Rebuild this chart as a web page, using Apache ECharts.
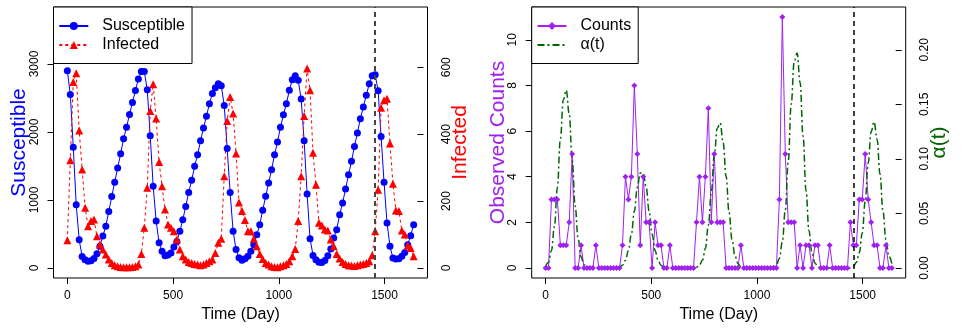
<!DOCTYPE html>
<html><head><meta charset="utf-8">
<script src="https://cdn.jsdelivr.net/npm/echarts@6/dist/echarts.min.js"></script>
<style>html,body{margin:0;padding:0;background:#fff}#c{width:962px;height:330px}</style>
</head><body><div id="c"></div>
<script>
// ---------------- data ----------------
const days = [0,14,28,42,56,70,84,98,112,126,140,154,168,182,196,210,224,238,252,266,280,294,308,322,336,350,364,378,392,406,420,434,448,462,476,490,504,518,532,546,560,574,588,602,616,630,644,658,672,686,700,714,728,742,756,770,784,798,812,826,840,854,868,882,896,910,924,938,952,966,980,994,1008,1022,1036,1050,1064,1078,1092,1106,1120,1134,1148,1162,1176,1190,1204,1218,1232,1246,1260,1274,1288,1302,1316,1330,1344,1358,1372,1386,1400,1414,1428,1442,1456,1470,1484,1498,1512,1526,1540,1554,1568,1582,1596,1610,1624,1638];
const susceptible = [2900,2550,1775,930,415,170,120,100,105,140,210,320,470,615,830,1050,1260,1470,1680,1900,2070,2255,2435,2610,2780,2890,2890,2620,1945,1200,690,370,245,180,190,220,310,390,540,710,905,1110,1290,1495,1665,1870,2060,2230,2415,2565,2650,2710,2680,2390,1755,1110,540,270,150,112,137,171,244,343,490,637,847,1053,1250,1446,1666,1853,2068,2254,2416,2612,2769,2828,2759,2485,1872,1088,431,185,122,85,80,110,180,279,441,563,784,956,1162,1372,1568,1788,1985,2196,2368,2538,2710,2828,2843,2607,1935,1259,662,318,147,132,137,171,229,343,475,637];
const infected = [83,322,556,582,411,294,180,125,140,145,95,70,55,40,25,15,8,5,3,2,2,2,3,5,10,42,120,240,469,549,447,317,244,175,130,120,110,85,55,35,25,18,15,12,10,8,10,15,20,25,45,75,87,274,439,511,462,342,196,170,143,110,110,87,65,42,27,15,10,5,3,2,5,8,12,20,35,57,140,274,454,596,531,344,249,135,127,115,112,85,65,42,28,18,12,8,7,6,8,10,12,15,20,38,110,234,479,501,506,372,252,172,170,112,100,67,60,35];
const counts = [0,0,3,3,3,1,1,1,2,5,0,0,1,0,0,0,0,1,0,0,0,0,0,0,0,0,1,4,3,4,8,5,1,4,2,2,0,2,1,1,0,0,1,0,0,0,0,0,0,0,0,2,4,2,4,7,2,5,2,2,2,0,0,0,0,0,1,0,0,0,0,0,0,0,0,0,0,0,0,3,11,5,2,2,2,0,1,0,1,1,0,1,1,0,0,0,1,0,0,0,0,0,0,2,1,1,3,3,5,3,2,1,1,0,0,1,0,0];
const alpha = [0.0015,0.005,0.016,0.038,0.074,0.118,0.154,0.163,0.141,0.099,0.057,0.027,0.010,0.003,0.001,
  0,0,0,0,0,0,0,0,0,0,
  0.001,0.0025,0.007,0.016,0.031,0.052,0.074,0.087,0.087,0.074,0.052,0.031,0.016,0.007,0.0025,0.0005,
  0,0,0,0,0,0,0,0,0,0,
  0.0006,0.0023,0.0071,0.018,0.039,0.069,0.103,0.128,0.133,0.115,0.084,0.051,0.026,0.011,0.004,0.001,
  0,0,0,0,0,0,0,0,0,0,
  0.0007,0.0027,0.0087,0.024,0.053,0.098,0.150,0.189,0.197,0.170,0.121,0.071,0.034,0.014,0.0045,0.001,
  0,0,0,0,0,0,0,0,0,0,0,
  0.0015,0.005,0.014,0.032,0.061,0.096,0.125,0.134,0.118,0.086,0.052,0.026,0.011,0.004];
const splitDay = 1456;
const xTickRange = [0, 1500, 500];
const sTickRange = [0, 3000, 1000];
const iTickRange = [0, 600, 200];
const cTickRange = [0, 10, 2];
const aTickRange = [0, 0.2, 0.05];

// ---------------- layout ----------------
const FONT = '"Liberation Sans", Arial, Helvetica, sans-serif';
const TOP = 7, HEIGHT = 271, W = 374;
const PL = 53.5, PR = 531.7;
const xr = [-65.5, 1703.5];
const sR = [-147.6, 3837.6], iR = [-30, 780], cR = [-0.44, 11.44], aR = [-0.0092, 0.2392];
const xPx = (left, v) => left + W * (v - xr[0]) / (xr[1] - xr[0]);
const yPx = (r, v) => TOP + HEIGHT * (r[1] - v) / (r[1] - r[0]);

const pair = arr => days.map((d, i) => [d, arr[i]]);
const plain = v => String(Math.round(v));
const noAxisBits = {axisLine:{show:false}, axisTick:{show:false}, axisLabel:{show:false}, splitLine:{show:false}};
const tickStyle = {show:true, length:6, lineStyle:{color:'#000', width:1}};
const lab = extra => Object.assign({show:true, color:'#000', fontSize:12, fontFamily:FONT}, extra);

const grids = [
  {left:PL, top:TOP, width:W, height:HEIGHT, show:true, borderColor:'#000', borderWidth:1, backgroundColor:'transparent'},
  {left:PR, top:TOP, width:W, height:HEIGHT, show:true, borderColor:'#000', borderWidth:1, backgroundColor:'transparent'},
  // tick grids
  {left:xPx(PL,0), width:xPx(PL,1500)-xPx(PL,0), top:TOP+HEIGHT-10, height:10},
  {left:PL, width:10, top:yPx(sR,3000), height:yPx(sR,0)-yPx(sR,3000)},
  {left:PL+W-10, width:10, top:yPx(iR,600), height:yPx(iR,0)-yPx(iR,600)},
  {left:xPx(PR,0), width:xPx(PR,1500)-xPx(PR,0), top:TOP+HEIGHT-10, height:10},
  {left:PR, width:10, top:yPx(cR,10), height:yPx(cR,0)-yPx(cR,10)},
  {left:PR+W-10, width:10, top:yPx(aR,0.2), height:yPx(aR,0)-yPx(aR,0.2)}
].map(g => Object.assign({containLabel:false, outerBoundsMode:'none'}, g));

const xName = {name:'Time (Day)', nameLocation:'middle', nameGap:29,
  nameTextStyle:{color:'#000', fontSize:16, fontFamily:FONT, verticalAlign:'top'}};
const hidden = gi => ({gridIndex:gi, type:'value', show:false, min:0, max:1});

const xAxes = [
  Object.assign({gridIndex:0, type:'value', min:xr[0], max:xr[1]}, noAxisBits, xName),
  Object.assign({gridIndex:1, type:'value', min:xr[0], max:xr[1]}, noAxisBits, xName),
  {gridIndex:2, type:'value', min:xTickRange[0], max:xTickRange[1], interval:xTickRange[2], axisLine:{show:false}, axisTick:tickStyle, splitLine:{show:false}, axisLabel:lab({margin:12, formatter:plain})},
  hidden(3), hidden(4),
  {gridIndex:5, type:'value', min:xTickRange[0], max:xTickRange[1], interval:xTickRange[2], axisLine:{show:false}, axisTick:tickStyle, splitLine:{show:false}, axisLabel:lab({margin:12, formatter:plain})},
  hidden(6), hidden(7)
];

const yName = (name, color, right, gap) => ({name, nameLocation:'middle', nameGap:gap, nameRotate:90,
  nameTextStyle:{color, fontSize:21, fontFamily:FONT, align:'center', verticalAlign: right ? 'top' : 'bottom'}});
const yTick = (gi, rng, right, fmt) => ({gridIndex:gi, type:'value', position: right ? 'right' : 'left',
  min:rng[0], max:rng[1], interval:rng[2], axisLine:{show:false}, axisTick:tickStyle, splitLine:{show:false},
  axisLabel:lab({rotate:90, align:'center', verticalAlign: right ? 'top' : 'bottom', margin:13, formatter:fmt || plain})});

const yAxes = [
  Object.assign({gridIndex:0, type:'value', position:'left', min:sR[0], max:sR[1]}, noAxisBits, yName('Susceptible','#0000FF',false,24)),
  Object.assign({gridIndex:0, type:'value', position:'right', min:iR[0], max:iR[1]}, noAxisBits, yName('Infected','#FF0000',true,22)),
  Object.assign({gridIndex:1, type:'value', position:'left', min:cR[0], max:cR[1]}, noAxisBits, yName('Observed Counts','#A020F0',false,23)),
  Object.assign({gridIndex:1, type:'value', position:'right', min:aR[0], max:aR[1]}, noAxisBits, yName('α(t)','#006400',true,23)),
  hidden(2),
  yTick(3, sTickRange, false),
  yTick(4, iTickRange, true),
  hidden(5),
  yTick(6, cTickRange, false),
  yTick(7, aTickRange, true, v => v.toFixed(2))
];

const legendBase = {orient:'vertical', top:TOP, borderColor:'#000', borderWidth:1, borderRadius:0,
  padding:[9.5,7,9,4.8], itemWidth:29, itemHeight:10, itemGap:0, selectedMode:false, backgroundColor:'#fff',
  textStyle:{fontSize:16, color:'#000', fontFamily:FONT, lineHeight:19, padding:[0,0,0,9]}};

const option = {
  animation:false,
  backgroundColor:'#fff',
  grid:grids, xAxis:xAxes, yAxis:yAxes,
  legend:[
    Object.assign({}, legendBase, {left:PL, data:['Susceptible','Infected']}),
    Object.assign({}, legendBase, {left:PR, data:['Counts',
      {name:'α(t)', itemStyle:{color:'rgba(0,0,0,0)', borderColor:'rgba(0,0,0,0)', borderWidth:0}}]})
  ],
  series:[
    {name:'Susceptible', type:'line', xAxisIndex:0, yAxisIndex:0, data:pair(susceptible),
     color:'#0000FF', symbol:'circle', symbolSize:7, showSymbol:true, lineStyle:{width:1, color:'#0000FF'}, itemStyle:{color:'#0000FF'},
     markLine:{silent:true, symbol:'none', label:{show:false}, data:[{xAxis:splitDay}], lineStyle:{color:'#444', type:[5,4], width:2}}},
    {name:'Infected', type:'line', xAxisIndex:0, yAxisIndex:1, data:pair(infected),
     color:'#FF0000', symbol:'triangle', symbolSize:8, lineStyle:{width:1, color:'#FF0000', type:[3,3]}, itemStyle:{color:'#FF0000'}},
    {name:'Counts', type:'line', xAxisIndex:1, yAxisIndex:2, data:pair(counts),
     color:'#A020F0', symbol:'diamond', symbolSize:6, lineStyle:{width:1, color:'#A020F0'}, itemStyle:{color:'#A020F0'},
     markLine:{silent:true, symbol:'none', label:{show:false}, data:[{xAxis:splitDay}], lineStyle:{color:'#000', type:[5,4], width:1.5}}},
    {name:'α(t)', type:'line', xAxisIndex:1, yAxisIndex:3, data:pair(alpha), smooth:0.4, smoothMonotone:'x',
     color:'#006400', symbol:'none', showSymbol:false, lineStyle:{width:1.5, color:'#006400', type:[7,3,2,3]}}
  ]
};
const chart = echarts.init(document.getElementById('c'), null, {renderer:'canvas'});
chart.setOption(option);
</script></body></html>
